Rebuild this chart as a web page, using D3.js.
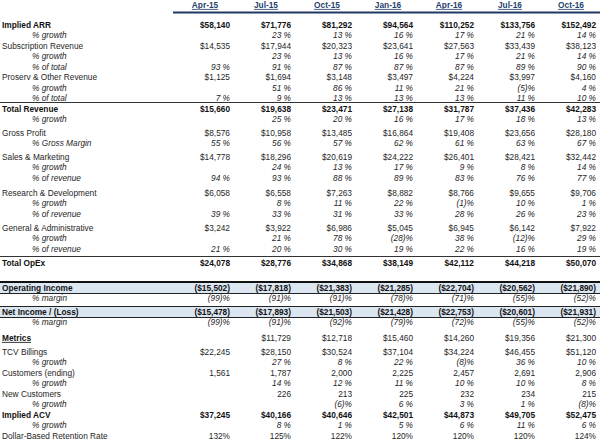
<!DOCTYPE html>
<html>
<head>
<meta charset="utf-8">
<script src="https://cdn.jsdelivr.net/npm/d3@7"></script>
<style>
  html, body { margin: 0; padding: 0; background: #fff; }
  svg { display: block; }
  text { font-family: "Liberation Sans", Arial, sans-serif; font-size: 8.3px; fill: #262626; }
</style>
</head>
<body>
<svg id="chart" width="600" height="441"></svg>
<script>
// ---------- DATA ----------
const periods = ["Apr-15", "Jul-15", "Oct-15", "Jan-16", "Apr-16", "Jul-16", "Oct-16"];

const impliedARR        = [58140, 71776, 81292, 94564, 110252, 133756, 152492];
const impliedARRGrowth  = [null, 23, 13, 16, 17, 21, 14];
const subscriptionRev   = [14535, 17944, 20323, 23641, 27563, 33439, 38123];
const subscriptionGrowth= [null, 23, 13, 16, 17, 21, 14];
const subscriptionShare = [93, 91, 87, 87, 87, 89, 90];
const proservRev        = [1125, 1694, 3148, 3497, 4224, 3997, 4160];
const proservGrowth     = [null, 51, 86, 11, 21, -5, 4];
const proservShare      = [7, 9, 13, 13, 13, 11, 10];
const totalRevenue      = [15660, 19638, 23471, 27138, 31787, 37436, 42283];
const totalRevGrowth    = [null, 25, 20, 16, 17, 18, 13];
const grossProfit       = [8576, 10958, 13485, 16864, 19408, 23656, 28180];
const grossMargin       = [55, 56, 57, 62, 61, 63, 67];
const salesMarketing    = [14778, 18296, 20619, 24222, 26401, 28421, 32442];
const smGrowth          = [null, 24, 13, 17, 9, 8, 14];
const smShare           = [94, 93, 88, 89, 83, 76, 77];
const researchDev       = [6058, 6558, 7263, 8882, 8766, 9655, 9706];
const rdGrowth          = [null, 8, 11, 22, -1, 10, 1];
const rdShare           = [39, 33, 31, 33, 28, 26, 23];
const generalAdmin      = [3242, 3922, 6986, 5045, 6945, 6142, 7922];
const gaGrowth          = [null, 21, 78, -28, 38, -12, 29];
const gaShare           = [21, 20, 30, 19, 22, 16, 19];
const totalOpEx         = [24078, 28776, 34868, 38149, 42112, 44218, 50070];
const operatingIncome   = [-15502, -17818, -21383, -21285, -22704, -20562, -21890];
const operatingMargin   = [-99, -91, -91, -78, -71, -55, -52];
const netIncome         = [-15478, -17893, -21503, -21428, -22753, -20601, -21931];
const netMargin         = [-99, -91, -92, -79, -72, -55, -52];
const metricsValues     = [null, 11729, 12718, 15460, 14260, 19356, 21300];
const tcvBillings       = [22245, 28150, 30524, 37104, 34224, 46455, 51120];
const tcvGrowth         = [null, 27, 8, 22, -8, 36, 10];
const customersEnding   = [1561, 1787, 2000, 2225, 2457, 2691, 2906];
const customersGrowth   = [null, 14, 12, 11, 10, 10, 8];
const newCustomers      = [null, 226, 213, 225, 232, 234, 215];
const newCustGrowth     = [null, null, -6, 6, 3, 1, -8];
const impliedACV        = [37245, 40166, 40646, 42501, 44873, 49705, 52475];
const acvGrowth         = [null, 8, 1, 5, 6, 11, 6];
const retentionRate     = [132, 125, 122, 120, 120, 120, 124];

// ---------- FORMATTERS ----------
const comma = d3.format(",");
const money = v => v == null ? "" : (v < 0 ? "($" + comma(-v) + ")" : "$" + comma(v));
const pct   = v => v == null ? "" : (v < 0 ? "(" + (-v) + ")%" : v + " %");
const count = v => v == null ? "" : comma(v);
const rate  = v => v == null ? "" : v + "%";

// ---------- ROW TABLE (built from arrays) ----------
// kind: bold | plain | sub ; gap: extra px before row ; deco: rule style
const rows = [
  {label: "Implied ARR", values: impliedARR, fmt: money, kind: "bold"},
  {label: "% growth", values: impliedARRGrowth, fmt: pct, kind: "sub"},
  {label: "Subscription Revenue", values: subscriptionRev, fmt: money, kind: "plain"},
  {label: "% growth", values: subscriptionGrowth, fmt: pct, kind: "sub"},
  {label: "% of total", values: subscriptionShare, fmt: pct, kind: "sub"},
  {label: "Proserv & Other Revenue", values: proservRev, fmt: money, kind: "plain"},
  {label: "% growth", values: proservGrowth, fmt: pct, kind: "sub"},
  {label: "% of total", values: proservShare, fmt: pct, kind: "sub"},
  {label: "Total Revenue", values: totalRevenue, fmt: money, kind: "bold", deco: "topRule"},
  {label: "% growth", values: totalRevGrowth, fmt: pct, kind: "sub"},
  {label: "Gross Profit", values: grossProfit, fmt: money, kind: "plain", gap: 3},
  {label: "% Gross Margin", values: grossMargin, fmt: pct, kind: "sub"},
  {label: "Sales & Marketing", values: salesMarketing, fmt: money, kind: "plain", gap: 3},
  {label: "% growth", values: smGrowth, fmt: pct, kind: "sub"},
  {label: "% of revenue", values: smShare, fmt: pct, kind: "sub"},
  {label: "Research & Development", values: researchDev, fmt: money, kind: "plain", gap: 4.5},
  {label: "% growth", values: rdGrowth, fmt: pct, kind: "sub"},
  {label: "% of revenue", values: rdShare, fmt: pct, kind: "sub"},
  {label: "General & Administrative", values: generalAdmin, fmt: money, kind: "plain", gap: 3.5},
  {label: "% growth", values: gaGrowth, fmt: pct, kind: "sub"},
  {label: "% of revenue", values: gaShare, fmt: pct, kind: "sub"},
  {label: "Total OpEx", values: totalOpEx, fmt: money, kind: "bold", gap: 3.5, deco: "topRule"},
  {label: "Operating Income", values: operatingIncome, fmt: money, kind: "bold", gap: 14.5, deco: "bandThick"},
  {label: "% margin", values: operatingMargin, fmt: pct, kind: "sub"},
  {label: "Net Income / (Loss)", values: netIncome, fmt: money, kind: "bold", gap: 3, deco: "band"},
  {label: "% margin", values: netMargin, fmt: pct, kind: "sub"},
  {label: "Metrics", values: metricsValues, fmt: money, kind: "boldUnder", gap: 5, valueKind: "plain"},
  {label: "TCV Billings", values: tcvBillings, fmt: money, kind: "plain", gap: 3.5},
  {label: "% growth", values: tcvGrowth, fmt: pct, kind: "sub"},
  {label: "Customers (ending)", values: customersEnding, fmt: count, kind: "plain"},
  {label: "% growth", values: customersGrowth, fmt: pct, kind: "sub"},
  {label: "New Customers", values: newCustomers, fmt: count, kind: "plain"},
  {label: "% growth", values: newCustGrowth, fmt: pct, kind: "sub"},
  {label: "Implied ACV", values: impliedACV, fmt: money, kind: "bold"},
  {label: "% growth", values: acvGrowth, fmt: pct, kind: "sub"},
  {label: "Dollar-Based Retention Rate", values: retentionRate, fmt: rate, kind: "plain"}
];

// ---------- LAYOUT ----------
const W = 600, H = 441;
const svg = d3.select("#chart");

const x = d3.scalePoint().domain(periods).range([230, 596]);
const pitch = 10.5;
let acc = 0;
rows.forEach((r, i) => { acc += (r.gap || 0); r.slot = i * pitch + acc; });
const y = d3.scaleLinear().domain([0, 1]).range([25, 26]);

// decorations (bands & rules) first
const deco = svg.append("g");
rows.forEach(r => {
  const cy = y(r.slot);
  if (r.deco === "band" || r.deco === "bandThick") {
    deco.append("rect").attr("x", 0).attr("y", cy - 5.5).attr("width", W).attr("height", 11)
      .attr("fill", "#DCE6F1");
    deco.append("line").attr("x1", 0).attr("x2", W).attr("y1", cy + 5.5).attr("y2", cy + 5.5)
      .attr("stroke", "#222").attr("stroke-width", 1);
    if (r.deco === "bandThick") {
      deco.append("line").attr("x1", 0).attr("x2", W).attr("y1", cy - 6).attr("y2", cy - 6)
        .attr("stroke", "#111").attr("stroke-width", 2);
    } else {
      deco.append("line").attr("x1", 0).attr("x2", W).attr("y1", cy - 5.5).attr("y2", cy - 5.5)
        .attr("stroke", "#222").attr("stroke-width", 1);
    }
  }
  if (r.deco === "topRule") {
    deco.append("line").attr("x1", 0).attr("x2", W).attr("y1", cy - 6.5).attr("y2", cy - 6.5)
      .attr("stroke", "#333").attr("stroke-width", 1);
  }
});

// header
const head = svg.append("g");
head.selectAll("text").data(periods).join("text")
  .attr("x", d => x(d) - 25).attr("y", 5).attr("dy", "0.35em")
  .attr("text-anchor", "middle")
  .style("font-weight", "bold").style("fill", "#1F3F6E")
  .style("text-decoration", "underline")
  .text(d => d);
head.append("line").attr("x1", 173).attr("x2", W).attr("y1", 12.5).attr("y2", 12.5)
  .attr("stroke", "#1F3864").attr("stroke-width", 2);

// rows
const body = svg.append("g");
const rowG = body.selectAll("g.row").data(rows).join("g").attr("class", "row")
  .attr("transform", r => `translate(0,${y(r.slot)})`);

rowG.append("text")
  .attr("x", r => r.kind === "sub" ? 32 : 2)
  .attr("dy", "0.35em")
  .style("font-weight", r => (r.kind === "bold" || r.kind === "boldUnder") ? "bold" : "normal")
  .style("font-style", r => r.kind === "sub" ? "italic" : "normal")
  .style("text-decoration", r => r.kind === "boldUnder" ? "underline" : "none")
  .style("fill", r => (r.kind === "bold" || r.kind === "boldUnder") ? "#111" : "#262626")
  .text(r => r.label);

rowG.each(function(r) {
  const vk = r.valueKind || r.kind;
  d3.select(this).selectAll("text.val")
    .data(periods.map((p, i) => ({p, v: r.values[i]})))
    .join("text").attr("class", "val")
    .attr("x", d => x(d.p)).attr("dy", "0.35em")
    .attr("text-anchor", "end")
    .style("font-weight", vk === "bold" ? "bold" : "normal")
    .style("font-style", vk === "sub" ? "italic" : "normal")
    .style("fill", vk === "bold" ? "#111" : "#262626")
    .text(d => r.fmt(d.v));
});
</script>
</body>
</html>
